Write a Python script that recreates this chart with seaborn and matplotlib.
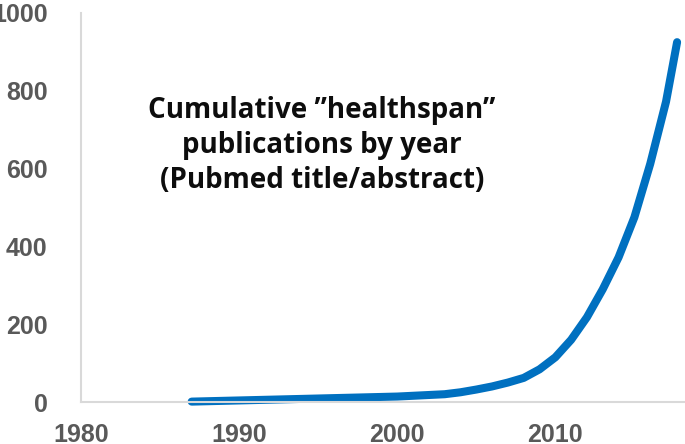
import numpy as np
import pandas as pd
import seaborn as sns
import matplotlib.pyplot as plt

# cumulative pubmed hits for "healthspan"
years = [1987, 1988, 1989, 1990, 1991, 1992, 1993, 1994, 1995, 1996, 1997,
         1998, 1999, 2000, 2001, 2002, 2003, 2004, 2005, 2006, 2007, 2008,
         2009, 2010, 2011, 2012, 2013, 2014, 2015, 2016, 2017, 2017.7]
counts = [1, 2, 3, 4, 5, 6, 7, 8, 9, 10, 11,
          12, 13, 14, 16, 18, 20, 25, 32, 40, 50, 62,
          84, 115, 160, 218, 290, 372, 475, 612, 772, 925]

x_ticks = [1980, 1990, 2000, 2010]
y_ticks = [0, 200, 400, 600, 800, 1000]
label = 'Cumulative \u201dhealthspan\u201d\npublications by year\n(Pubmed title/abstract)'

df = pd.DataFrame({"Year": years, "Count": counts})

sns.set_style("white")
plt.rcParams['font.family'] = ['Liberation Sans', 'DejaVu Sans']

fig = plt.figure(figsize=(6.85, 4.44), dpi=100)
ax = fig.add_axes([81 / 685, 42 / 444, 1 - 81 / 685, 389 / 444])

sns.lineplot(data=df, x="Year", y="Count", ax=ax, color="#0070C0",
             linewidth=5.8, solid_capstyle="round", solid_joinstyle="round",
             clip_on=False)

ax.set_xlim(1980, 2018.2)
ax.set_ylim(0, 1000)
ax.set_xticks(x_ticks)
ax.set_yticks(y_ticks)
ax.set_xlabel("")
ax.set_ylabel("")

for side in ["top", "right"]:
    ax.spines[side].set_visible(False)
for side in ["left", "bottom"]:
    ax.spines[side].set_color("#d9d9d9")
    ax.spines[side].set_linewidth(1.5)

ax.tick_params(axis="x", direction="inout", length=10, width=1.5,
               color="#d9d9d9", pad=10, labelsize=18, labelcolor="#595959")
ax.tick_params(axis="y", length=0, pad=24, labelsize=18, labelcolor="#595959")
for t in ax.get_xticklabels() + ax.get_yticklabels():
    t.set_fontweight("bold")

ax.text(1995.25, 660, label, ha="center", va="center", fontsize=20,
        fontweight="bold", family=["Open Sans", "DejaVu Sans"],
        color="#0d0d0d", linespacing=1.28)

fig.savefig("out.png", dpi=100)
plt.close(fig)
